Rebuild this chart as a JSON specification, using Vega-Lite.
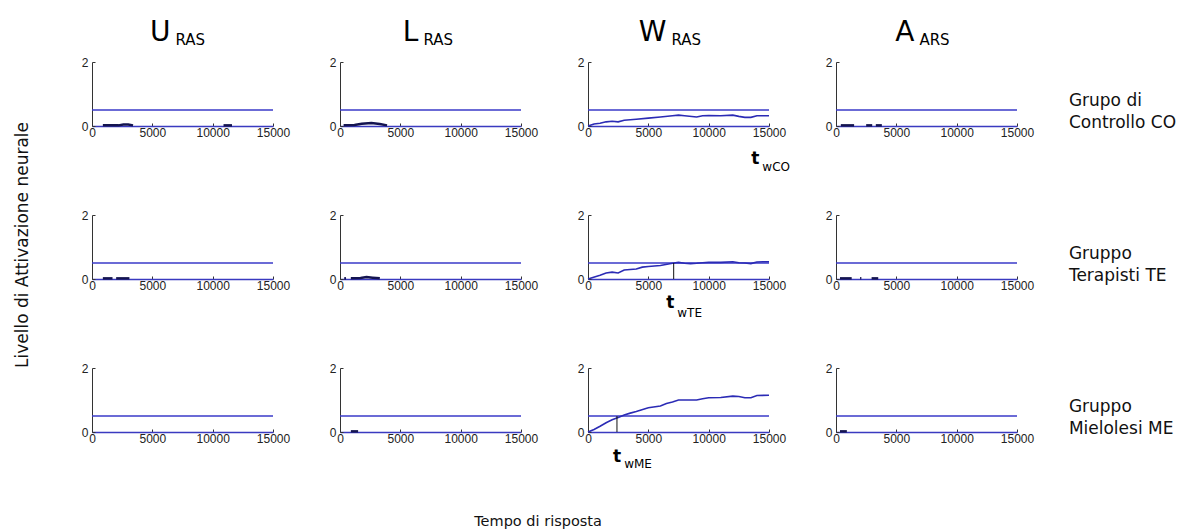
{
  "$schema": "https://vega.github.io/schema/vega-lite/v6.json",
  "background": "white",
  "padding": {"left": 13, "top": 19, "right": 5, "bottom": 5},
  "config": {"view": {"stroke": null}, "font": "DejaVu Sans"},
  "title": {"text": "Tempo di risposta", "orient": "bottom", "anchor": "middle", "frame": "bounds", "dx": -57, "offset": 45,
    "font": "DejaVu Sans", "fontSize": 14.5, "fontWeight": "normal", "color": "#111111"},
  "data": {"values": [
    {"g": "CO", "v": "U", "kind": "ttl", "main": "U", "sub": "RAS"},
    {"g": "CO", "v": "L", "kind": "ttl", "main": "L", "sub": "RAS"},
    {"g": "CO", "v": "W", "kind": "ttl", "main": "W", "sub": "RAS"},
    {"g": "CO", "v": "A", "kind": "ttl", "main": "A", "sub": "ARS"},
    {"g": "CO", "v": "A", "kind": "grp", "label": "Grupo di|Controllo CO"},
    {"g": "TE", "v": "A", "kind": "grp", "label": "Gruppo|Terapisti TE"},
    {"g": "ME", "v": "A", "kind": "grp", "label": "Gruppo|Mielolesi ME"},
    {"g": "CO", "v": "U", "kind": "thr", "a": 0.5},
    {"g": "CO", "v": "L", "kind": "thr", "a": 0.5},
    {"g": "CO", "v": "W", "kind": "thr", "a": 0.5},
    {"g": "CO", "v": "A", "kind": "thr", "a": 0.5},
    {"g": "TE", "v": "U", "kind": "thr", "a": 0.5},
    {"g": "TE", "v": "L", "kind": "thr", "a": 0.5},
    {"g": "TE", "v": "W", "kind": "thr", "a": 0.5},
    {"g": "TE", "v": "A", "kind": "thr", "a": 0.5},
    {"g": "ME", "v": "U", "kind": "thr", "a": 0.5},
    {"g": "ME", "v": "L", "kind": "thr", "a": 0.5},
    {"g": "ME", "v": "W", "kind": "thr", "a": 0.5},
    {"g": "ME", "v": "A", "kind": "thr", "a": 0.5},
    {"g": "TE", "v": "W", "kind": "vl", "t": 7100, "a": 0.5},
    {"g": "ME", "v": "W", "kind": "vl", "t": 2400, "a": 0.5},
    {"g": "CO", "v": "W", "kind": "tw", "t": 14200, "a": -1.2, "a2": -1.4, "sub": "wCO"},
    {"g": "TE", "v": "W", "kind": "tw", "t": 7150, "a": -0.9, "a2": -1.19, "sub": "wTE"},
    {"g": "ME", "v": "W", "kind": "tw", "t": 2750, "a": -0.94, "a2": -1.13, "sub": "wME"},

    {"g": "CO", "v": "W", "kind": "sig", "seg": "w", "t": 0, "a": 0.0},
    {"g": "CO", "v": "W", "kind": "sig", "seg": "w", "t": 500, "a": 0.06},
    {"g": "CO", "v": "W", "kind": "sig", "seg": "w", "t": 1000, "a": 0.085},
    {"g": "CO", "v": "W", "kind": "sig", "seg": "w", "t": 1500, "a": 0.13},
    {"g": "CO", "v": "W", "kind": "sig", "seg": "w", "t": 2000, "a": 0.15},
    {"g": "CO", "v": "W", "kind": "sig", "seg": "w", "t": 2500, "a": 0.13},
    {"g": "CO", "v": "W", "kind": "sig", "seg": "w", "t": 3000, "a": 0.18},
    {"g": "CO", "v": "W", "kind": "sig", "seg": "w", "t": 4000, "a": 0.21},
    {"g": "CO", "v": "W", "kind": "sig", "seg": "w", "t": 5000, "a": 0.245},
    {"g": "CO", "v": "W", "kind": "sig", "seg": "w", "t": 6000, "a": 0.28},
    {"g": "CO", "v": "W", "kind": "sig", "seg": "w", "t": 7000, "a": 0.32},
    {"g": "CO", "v": "W", "kind": "sig", "seg": "w", "t": 7500, "a": 0.34},
    {"g": "CO", "v": "W", "kind": "sig", "seg": "w", "t": 8000, "a": 0.32},
    {"g": "CO", "v": "W", "kind": "sig", "seg": "w", "t": 9000, "a": 0.28},
    {"g": "CO", "v": "W", "kind": "sig", "seg": "w", "t": 9500, "a": 0.32},
    {"g": "CO", "v": "W", "kind": "sig", "seg": "w", "t": 10000, "a": 0.33},
    {"g": "CO", "v": "W", "kind": "sig", "seg": "w", "t": 11000, "a": 0.32},
    {"g": "CO", "v": "W", "kind": "sig", "seg": "w", "t": 12000, "a": 0.34},
    {"g": "CO", "v": "W", "kind": "sig", "seg": "w", "t": 12500, "a": 0.3},
    {"g": "CO", "v": "W", "kind": "sig", "seg": "w", "t": 13000, "a": 0.27},
    {"g": "CO", "v": "W", "kind": "sig", "seg": "w", "t": 13500, "a": 0.27},
    {"g": "CO", "v": "W", "kind": "sig", "seg": "w", "t": 14000, "a": 0.32},
    {"g": "CO", "v": "W", "kind": "sig", "seg": "w", "t": 15000, "a": 0.32},

    {"g": "TE", "v": "W", "kind": "sig", "seg": "w", "t": 0, "a": 0.0},
    {"g": "TE", "v": "W", "kind": "sig", "seg": "w", "t": 1000, "a": 0.12},
    {"g": "TE", "v": "W", "kind": "sig", "seg": "w", "t": 1500, "a": 0.19},
    {"g": "TE", "v": "W", "kind": "sig", "seg": "w", "t": 2000, "a": 0.215},
    {"g": "TE", "v": "W", "kind": "sig", "seg": "w", "t": 2500, "a": 0.19},
    {"g": "TE", "v": "W", "kind": "sig", "seg": "w", "t": 3000, "a": 0.28},
    {"g": "TE", "v": "W", "kind": "sig", "seg": "w", "t": 4000, "a": 0.31},
    {"g": "TE", "v": "W", "kind": "sig", "seg": "w", "t": 4500, "a": 0.37},
    {"g": "TE", "v": "W", "kind": "sig", "seg": "w", "t": 5000, "a": 0.39},
    {"g": "TE", "v": "W", "kind": "sig", "seg": "w", "t": 6000, "a": 0.42},
    {"g": "TE", "v": "W", "kind": "sig", "seg": "w", "t": 7000, "a": 0.49},
    {"g": "TE", "v": "W", "kind": "sig", "seg": "w", "t": 7500, "a": 0.52},
    {"g": "TE", "v": "W", "kind": "sig", "seg": "w", "t": 8000, "a": 0.49},
    {"g": "TE", "v": "W", "kind": "sig", "seg": "w", "t": 8500, "a": 0.48},
    {"g": "TE", "v": "W", "kind": "sig", "seg": "w", "t": 9000, "a": 0.49},
    {"g": "TE", "v": "W", "kind": "sig", "seg": "w", "t": 9500, "a": 0.51},
    {"g": "TE", "v": "W", "kind": "sig", "seg": "w", "t": 10000, "a": 0.52},
    {"g": "TE", "v": "W", "kind": "sig", "seg": "w", "t": 11000, "a": 0.52},
    {"g": "TE", "v": "W", "kind": "sig", "seg": "w", "t": 12000, "a": 0.54},
    {"g": "TE", "v": "W", "kind": "sig", "seg": "w", "t": 12500, "a": 0.51},
    {"g": "TE", "v": "W", "kind": "sig", "seg": "w", "t": 13000, "a": 0.5},
    {"g": "TE", "v": "W", "kind": "sig", "seg": "w", "t": 13500, "a": 0.48},
    {"g": "TE", "v": "W", "kind": "sig", "seg": "w", "t": 14000, "a": 0.53},
    {"g": "TE", "v": "W", "kind": "sig", "seg": "w", "t": 14500, "a": 0.54},
    {"g": "TE", "v": "W", "kind": "sig", "seg": "w", "t": 15000, "a": 0.54},

    {"g": "ME", "v": "W", "kind": "sig", "seg": "w", "t": 0, "a": 0.0},
    {"g": "ME", "v": "W", "kind": "sig", "seg": "w", "t": 500, "a": 0.08},
    {"g": "ME", "v": "W", "kind": "sig", "seg": "w", "t": 1000, "a": 0.18},
    {"g": "ME", "v": "W", "kind": "sig", "seg": "w", "t": 1500, "a": 0.29},
    {"g": "ME", "v": "W", "kind": "sig", "seg": "w", "t": 2000, "a": 0.38},
    {"g": "ME", "v": "W", "kind": "sig", "seg": "w", "t": 2500, "a": 0.45},
    {"g": "ME", "v": "W", "kind": "sig", "seg": "w", "t": 3000, "a": 0.53},
    {"g": "ME", "v": "W", "kind": "sig", "seg": "w", "t": 3500, "a": 0.59},
    {"g": "ME", "v": "W", "kind": "sig", "seg": "w", "t": 4000, "a": 0.64},
    {"g": "ME", "v": "W", "kind": "sig", "seg": "w", "t": 5000, "a": 0.76},
    {"g": "ME", "v": "W", "kind": "sig", "seg": "w", "t": 6000, "a": 0.81},
    {"g": "ME", "v": "W", "kind": "sig", "seg": "w", "t": 6500, "a": 0.89},
    {"g": "ME", "v": "W", "kind": "sig", "seg": "w", "t": 7000, "a": 0.94},
    {"g": "ME", "v": "W", "kind": "sig", "seg": "w", "t": 7500, "a": 1.0},
    {"g": "ME", "v": "W", "kind": "sig", "seg": "w", "t": 8000, "a": 1.0},
    {"g": "ME", "v": "W", "kind": "sig", "seg": "w", "t": 9000, "a": 1.0},
    {"g": "ME", "v": "W", "kind": "sig", "seg": "w", "t": 9500, "a": 1.04},
    {"g": "ME", "v": "W", "kind": "sig", "seg": "w", "t": 10000, "a": 1.07},
    {"g": "ME", "v": "W", "kind": "sig", "seg": "w", "t": 11000, "a": 1.08},
    {"g": "ME", "v": "W", "kind": "sig", "seg": "w", "t": 12000, "a": 1.12},
    {"g": "ME", "v": "W", "kind": "sig", "seg": "w", "t": 12500, "a": 1.11},
    {"g": "ME", "v": "W", "kind": "sig", "seg": "w", "t": 13000, "a": 1.07},
    {"g": "ME", "v": "W", "kind": "sig", "seg": "w", "t": 13500, "a": 1.07},
    {"g": "ME", "v": "W", "kind": "sig", "seg": "w", "t": 14000, "a": 1.14},
    {"g": "ME", "v": "W", "kind": "sig", "seg": "w", "t": 15000, "a": 1.15},

    {"g": "CO", "v": "U", "kind": "low", "seg": "1", "t": 900, "a": 0.02},
    {"g": "CO", "v": "U", "kind": "low", "seg": "1", "t": 2200, "a": 0.02},
    {"g": "CO", "v": "U", "kind": "low", "seg": "1", "t": 2600, "a": 0.05},
    {"g": "CO", "v": "U", "kind": "low", "seg": "1", "t": 3000, "a": 0.05},
    {"g": "CO", "v": "U", "kind": "low", "seg": "1", "t": 3400, "a": 0.02},
    {"g": "CO", "v": "U", "kind": "low", "seg": "2", "t": 10900, "a": 0.02},
    {"g": "CO", "v": "U", "kind": "low", "seg": "2", "t": 11600, "a": 0.02},
    {"g": "CO", "v": "L", "kind": "low", "seg": "1", "t": 300, "a": 0.02},
    {"g": "CO", "v": "L", "kind": "low", "seg": "1", "t": 1200, "a": 0.03},
    {"g": "CO", "v": "L", "kind": "low", "seg": "1", "t": 1800, "a": 0.07},
    {"g": "CO", "v": "L", "kind": "low", "seg": "1", "t": 2600, "a": 0.09},
    {"g": "CO", "v": "L", "kind": "low", "seg": "1", "t": 3300, "a": 0.06},
    {"g": "CO", "v": "L", "kind": "low", "seg": "1", "t": 3900, "a": 0.02},
    {"g": "CO", "v": "A", "kind": "low", "seg": "1", "t": 400, "a": 0.02},
    {"g": "CO", "v": "A", "kind": "low", "seg": "1", "t": 1500, "a": 0.02},
    {"g": "CO", "v": "A", "kind": "low", "seg": "2", "t": 2500, "a": 0.02},
    {"g": "CO", "v": "A", "kind": "low", "seg": "2", "t": 3000, "a": 0.02},
    {"g": "CO", "v": "A", "kind": "low", "seg": "3", "t": 3300, "a": 0.02},
    {"g": "CO", "v": "A", "kind": "low", "seg": "3", "t": 3800, "a": 0.02},
    {"g": "TE", "v": "U", "kind": "low", "seg": "1", "t": 900, "a": 0.02},
    {"g": "TE", "v": "U", "kind": "low", "seg": "1", "t": 1700, "a": 0.02},
    {"g": "TE", "v": "U", "kind": "low", "seg": "2", "t": 2000, "a": 0.02},
    {"g": "TE", "v": "U", "kind": "low", "seg": "2", "t": 3100, "a": 0.02},
    {"g": "TE", "v": "L", "kind": "low", "seg": "1", "t": 350, "a": 0.02},
    {"g": "TE", "v": "L", "kind": "low", "seg": "1", "t": 500, "a": 0.02},
    {"g": "TE", "v": "L", "kind": "low", "seg": "2", "t": 900, "a": 0.02},
    {"g": "TE", "v": "L", "kind": "low", "seg": "2", "t": 1700, "a": 0.03},
    {"g": "TE", "v": "L", "kind": "low", "seg": "2", "t": 2200, "a": 0.06},
    {"g": "TE", "v": "L", "kind": "low", "seg": "2", "t": 2700, "a": 0.04},
    {"g": "TE", "v": "L", "kind": "low", "seg": "2", "t": 3300, "a": 0.02},
    {"g": "TE", "v": "A", "kind": "low", "seg": "1", "t": 330, "a": 0.02},
    {"g": "TE", "v": "A", "kind": "low", "seg": "1", "t": 1300, "a": 0.02},
    {"g": "TE", "v": "A", "kind": "low", "seg": "2", "t": 2000, "a": 0.02},
    {"g": "TE", "v": "A", "kind": "low", "seg": "2", "t": 2100, "a": 0.02},
    {"g": "TE", "v": "A", "kind": "low", "seg": "3", "t": 2950, "a": 0.02},
    {"g": "TE", "v": "A", "kind": "low", "seg": "3", "t": 3500, "a": 0.02},
    {"g": "ME", "v": "L", "kind": "low", "seg": "1", "t": 900, "a": 0.02},
    {"g": "ME", "v": "L", "kind": "low", "seg": "1", "t": 1500, "a": 0.02},
    {"g": "ME", "v": "A", "kind": "low", "seg": "1", "t": 330, "a": 0.02},
    {"g": "ME", "v": "A", "kind": "low", "seg": "1", "t": 900, "a": 0.02}
  ]},
  "facet": {
    "row": {
      "field": "g", "type": "nominal", "sort": ["CO", "TE", "ME"],
      "header": {
        "labels": false,
        "title": "Livello di Attivazione neurale",
        "titleOrient": "left",
        "titleFont": "DejaVu Sans",
        "titleFontSize": 17,
        "titleFontWeight": "normal",
        "titleColor": "#111111",
        "titlePadding": 50
      }
    },
    "column": {
      "field": "v", "type": "nominal", "sort": ["U", "L", "W", "A"],
      "header": {"labels": false, "title": null}
    }
  },
  "spacing": {"row": 89, "column": 67},
  "bounds": "flush",
  "resolve": {"axis": {"x": "independent", "y": "independent"}},
  "spec": {
    "width": 181,
    "height": 64,
    "layer": [
      {
        "transform": [{"filter": "datum.kind == 'thr'"}],
        "mark": {"type": "rule", "color": "#3a3ac8", "strokeWidth": 1.3},
        "encoding": {
          "y": {"field": "a", "type": "quantitative",
            "scale": {"domain": [0, 2], "nice": false, "zero": false},
            "axis": {"values": [0, 1, 2], "format": "d", "title": null, "grid": false,
              "domainColor": "#333333", "tickColor": "#333333", "tickSize": -3,
              "labelFont": "Liberation Sans", "labelFontSize": 12, "labelColor": "#222222",
              "labelPadding": 7, "labelFlush": false, "labelOverlap": false}}
        }
      },
      {
        "transform": [{"filter": "datum.kind == 'sig'"}],
        "mark": {"type": "line", "color": "#2b2bb5", "strokeWidth": 1.6},
        "encoding": {
          "x": {"field": "t", "type": "quantitative",
            "scale": {"domain": [0, 15000], "nice": false, "zero": false},
            "axis": {"values": [0, 5000, 10000, 15000], "format": "d", "title": null, "grid": false,
              "domainColor": "#3a3ac0", "domainWidth": 1.3, "tickColor": "#333333", "tickSize": -3,
              "labelFont": "Liberation Sans", "labelFontSize": 12, "labelColor": "#222222",
              "labelPadding": 4, "labelFlush": false, "labelOverlap": false}},
          "y": {"field": "a", "type": "quantitative"},
          "detail": {"field": "seg"}
        }
      },
      {
        "transform": [{"filter": "datum.kind == 'low'"}],
        "mark": {"type": "line", "color": "#141450", "strokeWidth": 2.5},
        "encoding": {
          "x": {"field": "t", "type": "quantitative"},
          "y": {"field": "a", "type": "quantitative"},
          "detail": {"field": "seg"}
        }
      },
      {
        "transform": [{"filter": "datum.kind == 'vl'"}],
        "mark": {"type": "rule", "color": "#111111", "strokeWidth": 1},
        "encoding": {
          "x": {"field": "t", "type": "quantitative"},
          "y": {"field": "a", "type": "quantitative"},
          "y2": {"datum": 0}
        }
      },
      {
        "transform": [{"filter": "datum.kind == 'ttl'"}],
        "mark": {"type": "text", "align": "right", "baseline": "alphabetic", "fontSize": 28, "font": "DejaVu Sans", "color": "#000000"},
        "encoding": {
          "x": {"datum": 6500, "type": "quantitative"},
          "y": {"datum": 2.65, "type": "quantitative"},
          "text": {"field": "main"}
        }
      },
      {
        "transform": [{"filter": "datum.kind == 'ttl'"}],
        "mark": {"type": "text", "align": "left", "baseline": "alphabetic", "dx": 5, "fontSize": 15, "font": "DejaVu Sans", "color": "#000000"},
        "encoding": {
          "x": {"datum": 6500, "type": "quantitative"},
          "y": {"datum": 2.54, "type": "quantitative"},
          "text": {"field": "sub"}
        }
      },
      {
        "transform": [{"filter": "datum.kind == 'grp'"}],
        "mark": {"type": "text", "align": "left", "baseline": "alphabetic", "fontSize": 17, "font": "DejaVu Sans", "color": "#111111", "lineBreak": "|", "lineHeight": 22},
        "encoding": {
          "x": {"datum": 19300, "type": "quantitative"},
          "y": {"datum": 0.63, "type": "quantitative"},
          "text": {"field": "label"}
        }
      },
      {
        "transform": [{"filter": "datum.kind == 'tw'"}],
        "mark": {"type": "text", "align": "right", "baseline": "alphabetic", "fontSize": 17, "fontWeight": "bold", "font": "DejaVu Sans", "color": "#000000", "text": "t"},
        "encoding": {
          "x": {"field": "t", "type": "quantitative"},
          "y": {"field": "a", "type": "quantitative"}
        }
      },
      {
        "transform": [{"filter": "datum.kind == 'tw'"}],
        "mark": {"type": "text", "align": "left", "baseline": "alphabetic", "dx": 3, "fontSize": 12, "font": "DejaVu Sans", "color": "#000000"},
        "encoding": {
          "x": {"field": "t", "type": "quantitative"},
          "y": {"field": "a2", "type": "quantitative"},
          "text": {"field": "sub"}
        }
      }
    ]
  }
}
